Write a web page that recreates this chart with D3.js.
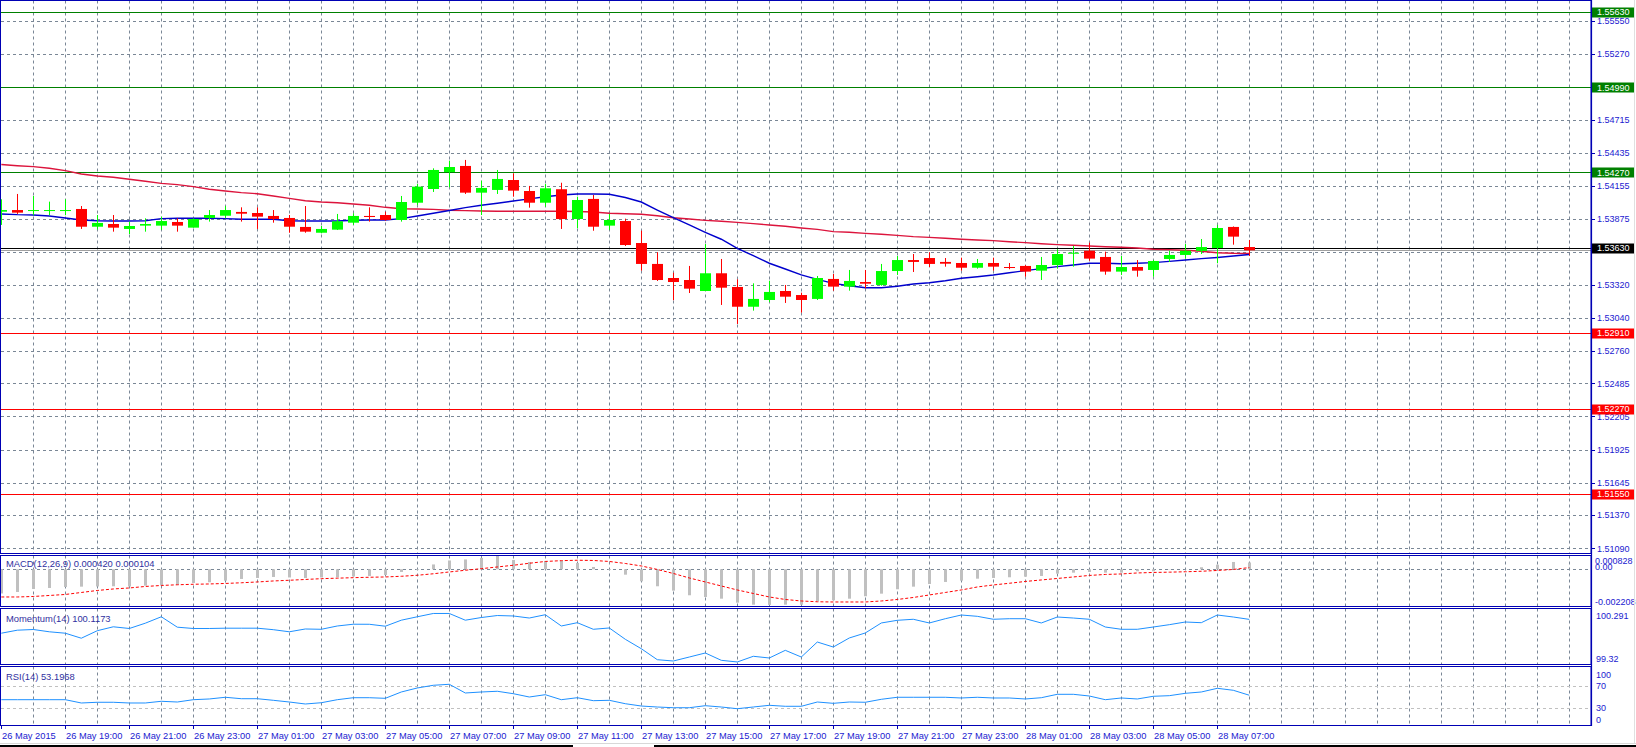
<!DOCTYPE html>
<html><head><meta charset="utf-8">
<script src="https://cdn.jsdelivr.net/npm/d3@7"></script>
<style>
body{margin:0;background:#fff;}
svg{display:block;}
text{font-family:"Liberation Sans",Arial,sans-serif;}
</style>
</head><body>
<svg id="c" width="1636" height="747"></svg>
<script>
// ---------- DATA (M30 bars, 26 May 2015 17:00 .. 28 May 08:00) ----------
const openP = [1.53937,1.53951,1.53946,1.53946,1.53946,1.53960,1.53810,1.53833,1.53791,1.53819,
1.53819,1.53850,1.53802,1.53884,1.53903,1.53935,1.53926,1.53901,1.53884,1.53808,
1.53759,1.53785,1.53844,1.53901,1.53909,1.53867,1.54013,1.54129,1.54273,1.54324,
1.54098,1.54121,1.54205,1.54112,1.54013,1.54127,1.53875,1.54045,1.53819,1.53858,
1.53672,1.53495,1.53376,1.53359,1.53266,1.53416,1.53300,1.53133,1.53190,1.53266,
1.53232,1.53199,1.53368,1.53303,1.53342,1.53317,1.53435,1.53528,1.53545,1.53512,
1.53503,1.53463,1.53503,1.53469,1.53478,1.53438,1.53486,1.53582,1.53607,1.53554,
1.53430,1.53469,1.53444,1.53537,1.53571,1.53605,1.53630,1.53808,1.53638];
const highP = [1.54042,1.54087,1.54070,1.54022,1.54042,1.53985,1.53909,1.53909,1.53853,1.53881,
1.53895,1.53881,1.53881,1.53951,1.53985,1.53974,1.53974,1.53951,1.53909,1.53985,
1.53816,1.53918,1.53924,1.53974,1.53937,1.54070,1.54171,1.54304,1.54369,1.54375,
1.54199,1.54290,1.54262,1.54155,1.54171,1.54182,1.54064,1.54078,1.53918,1.53878,
1.53776,1.53594,1.53421,1.53478,1.53664,1.53537,1.53365,1.53331,1.53353,1.53317,
1.53252,1.53393,1.53410,1.53444,1.53444,1.53495,1.53562,1.53579,1.53594,1.53545,
1.53548,1.53537,1.53548,1.53503,1.53486,1.53554,1.53619,1.53647,1.53675,1.53599,
1.53562,1.53528,1.53528,1.53607,1.53664,1.53706,1.53825,1.53812,1.53698];
const lowP = [1.53825,1.53918,1.53907,1.53907,1.53907,1.53791,1.53788,1.53768,1.53748,1.53768,
1.53782,1.53768,1.53802,1.53853,1.53881,1.53853,1.53791,1.53844,1.53759,1.53759,
1.53754,1.53782,1.53825,1.53853,1.53861,1.53853,1.53994,1.54104,1.54144,1.54087,
1.53909,1.54087,1.54064,1.53971,1.53979,1.53791,1.53797,1.53776,1.53782,1.53647,
1.53438,1.53351,1.53188,1.53249,1.53266,1.53148,1.52987,1.53100,1.53173,1.53165,
1.53083,1.53190,1.53269,1.53269,1.53289,1.53311,1.53402,1.53427,1.53469,1.53472,
1.53438,1.53455,1.53438,1.53450,1.53387,1.53359,1.53455,1.53472,1.53523,1.53404,
1.53402,1.53387,1.53387,1.53512,1.53540,1.53579,1.53501,1.53658,1.53562];
const closeP = [1.53951,1.53929,1.53951,1.53951,1.53951,1.53810,1.53842,1.53802,1.53816,1.53833,
1.53858,1.53819,1.53875,1.53909,1.53951,1.53920,1.53895,1.53875,1.53810,1.53768,
1.53791,1.53856,1.53901,1.53892,1.53867,1.54019,1.54149,1.54290,1.54315,1.54098,
1.54138,1.54214,1.54115,1.54013,1.54135,1.53875,1.54036,1.53810,1.53867,1.53655,
1.53495,1.53359,1.53342,1.53286,1.53416,1.53294,1.53133,1.53199,1.53258,1.53218,
1.53190,1.53376,1.53303,1.53351,1.53328,1.53435,1.53528,1.53512,1.53495,1.53497,
1.53463,1.53503,1.53472,1.53461,1.53430,1.53486,1.53579,1.53590,1.53540,1.53430,
1.53469,1.53438,1.53520,1.53571,1.53607,1.53638,1.53799,1.53726,1.53610];
const maFast = [1.53918,1.53912,1.53909,1.53901,1.53884,1.53867,1.53861,1.53858,1.53858,1.53861,
1.53878,1.53881,1.53881,1.53881,1.53878,1.53873,1.53873,1.53873,1.53861,1.53858,
1.53858,1.53858,1.53864,1.53867,1.53867,1.53878,1.53901,1.53924,1.53947,1.53971,
1.53991,1.54008,1.54028,1.54045,1.54064,1.54078,1.54087,1.54087,1.54084,1.54057,
1.54019,1.53951,1.53886,1.53825,1.53763,1.53704,1.53627,1.53565,1.53501,1.53452,
1.53402,1.53365,1.53331,1.53311,1.53294,1.53294,1.53306,1.53325,1.53336,1.53353,
1.53374,1.53387,1.53402,1.53421,1.53438,1.53455,1.53472,1.53486,1.53501,1.53501,
1.53497,1.53501,1.53506,1.53517,1.53528,1.53540,1.53550,1.53562,1.53575];
const maSlow = [1.54336,1.54326,1.54318,1.54304,1.54284,1.54256,1.54239,1.54228,1.54211,1.54194,
1.54177,1.54166,1.54149,1.54127,1.54112,1.54098,1.54089,1.54070,1.54050,1.54030,
1.54019,1.54013,1.54002,1.53991,1.53974,1.53962,1.53960,1.53957,1.53949,1.53946,
1.53943,1.53941,1.53941,1.53941,1.53941,1.53941,1.53939,1.53935,1.53924,1.53920,
1.53915,1.53903,1.53886,1.53875,1.53864,1.53856,1.53847,1.53836,1.53825,1.53814,
1.53799,1.53787,1.53768,1.53763,1.53754,1.53746,1.53737,1.53726,1.53720,1.53712,
1.53704,1.53698,1.53692,1.53683,1.53675,1.53666,1.53658,1.53653,1.53647,1.53641,
1.53636,1.53630,1.53619,1.53616,1.53611,1.53602,1.53590,1.53585,1.53583];
const macdHist = [-0.001500,-0.001407,-0.001221,-0.001159,-0.001097,-0.001078,-0.001066,-0.001054,-0.001066,-0.001016,
-0.000973,-0.000954,-0.000849,-0.000806,-0.000707,-0.000601,-0.000539,-0.000477,-0.000508,-0.000539,
-0.000508,-0.000496,-0.000446,-0.000415,-0.000353,-0.000167,-0.000043,0.000298,0.000545,0.000607,
0.000700,0.000828,0.000576,0.000452,0.000514,0.000514,0.000390,0.000143,-0.000043,-0.000335,
-0.000744,-0.001054,-0.001326,-0.001611,-0.001717,-0.001822,-0.002070,-0.002194,-0.002208,-0.002194,
-0.002194,-0.001983,-0.001921,-0.001822,-0.001673,-0.001512,-0.001240,-0.001078,-0.000911,-0.000787,
-0.000707,-0.000583,-0.000539,-0.000496,-0.000459,-0.000415,-0.000273,-0.000211,-0.000167,-0.000211,
-0.000211,-0.000124,-0.000124,-0.000012,-0.000012,0.000124,0.000285,0.000452,0.000420];
const macdSignal = [-0.001717,-0.001717,-0.001686,-0.001624,-0.001562,-0.001438,-0.001314,-0.001221,-0.001159,-0.001066,
-0.001004,-0.000961,-0.000930,-0.000911,-0.000880,-0.000837,-0.000787,-0.000725,-0.000682,-0.000632,
-0.000583,-0.000552,-0.000521,-0.000496,-0.000477,-0.000434,-0.000372,-0.000279,-0.000167,-0.000062,
0.000037,0.000143,0.000248,0.000372,0.000483,0.000533,0.000558,0.000545,0.000483,0.000359,
0.000205,-0.000012,-0.000260,-0.000539,-0.000787,-0.001035,-0.001283,-0.001500,-0.001717,-0.001872,
-0.001965,-0.002014,-0.002027,-0.002027,-0.002027,-0.001965,-0.001872,-0.001748,-0.001593,-0.001438,
-0.001283,-0.001097,-0.000973,-0.000868,-0.000756,-0.000663,-0.000570,-0.000477,-0.000384,-0.000322,
-0.000291,-0.000229,-0.000198,-0.000180,-0.000155,-0.000124,-0.000074,-0.000012,0.000104];
const momentum = [99.874,99.927,99.939,99.899,99.874,99.786,99.918,99.987,99.957,100.050,
100.163,99.980,99.957,99.957,99.962,99.962,99.962,99.936,99.899,99.948,
99.943,100.001,100.032,100.031,99.997,100.103,100.163,100.221,100.221,100.103,
100.150,100.185,100.177,100.141,100.199,100.001,100.059,99.943,99.966,99.767,
99.601,99.408,99.385,99.455,99.526,99.397,99.368,99.468,99.438,99.573,
99.455,99.719,99.631,99.790,99.878,100.054,100.101,100.119,100.054,100.129,
100.194,100.171,100.119,100.129,100.129,100.054,100.159,100.141,100.119,99.983,
99.943,99.943,99.983,100.024,100.071,100.059,100.194,100.159,100.1173];
const rsi = [45.1,45.1,45.1,45.1,45.1,39.1,40.4,40.4,39.1,39.1,
42.2,40.9,45.1,46.4,49.5,46.9,46.9,44.0,40.9,37.3,
39.6,45.1,48.7,48.7,47.6,59.1,66.4,71.3,73.1,57.3,
59.1,60.4,56.0,50.0,54.2,45.1,48.7,43.3,44.0,37.8,
33.6,31.8,30.5,30.5,34.2,31.8,28.7,31.8,34.9,33.1,
33.1,40.9,38.5,40.9,40.4,45.8,49.5,49.5,49.5,49.5,
48.2,49.5,48.2,48.2,46.4,48.7,54.9,54.9,51.8,45.1,
48.2,46.4,51.3,52.4,56.7,59.1,65.8,62.2,53.1968];

const priceTicks = [1.55550,1.55270,1.54990,1.54715,1.54435,1.54155,1.53875,1.53600,1.53320,1.53040,1.52760,1.52485,1.52205,1.51925,1.51645,1.51370,1.51090];
const priceTickLabels = ["1.55550","1.55270","","1.54715","1.54435","1.54155","1.53875","","1.53320","1.53040","1.52760","1.52485","1.52205","1.51925","1.51645","1.51370","1.51090"];
const timeLabels = ["26 May 2015","26 May 19:00","26 May 21:00","26 May 23:00","27 May 01:00","27 May 03:00","27 May 05:00","27 May 07:00","27 May 09:00","27 May 11:00","27 May 13:00","27 May 15:00","27 May 17:00","27 May 19:00","27 May 21:00","27 May 23:00","28 May 01:00","28 May 03:00","28 May 05:00","28 May 07:00"];
const levelsGreen = [1.55630,1.54990,1.54270];
const levelsRed = [1.52910,1.52270,1.51550];
const levelBlack = 1.53630;
const macdTitle = "MACD(12,26,9) 0.000420 0.000104";
const momTitle = "Momentum(14) 100.1173";
const rsiTitle = "RSI(14) 53.1968";
const macdAxis = [["0.000828",0.000828],["0.00",0],["-0.002208",-0.002208]];
const momAxis = [["100.291",100.291],["99.32",99.32]];
const rsiLevels = [70,30];
const rsiAxis = [100,70,30,0];

// ---------- LAYOUT ----------
const PR = 1591;
const svg = d3.select("#c");
const FRAME = "#0000b4", AXT = "#1a1ad0", GRID = "#7a8796";
const P = {
  main: {y0: 0.5, y1: 553.5},
  macd: {y0: 555.5, y1: 606.5},
  mom:  {y0: 608.5, y1: 664.5},
  rsi:  {y0: 666.5, y1: 725.5}
};
const nBars = closeP.length;
const x = d3.scaleLinear().domain([0, 1]).range([1.3, 17.3]);
const y = d3.scaleLinear().domain([1.51041, 1.55728]).range([554, 0]);
const yM = d3.scaleLinear().domain([-0.002208, 0.000828]).range([604.9, 555.9]);
const yMo = d3.scaleLinear().domain([99.32, 100.291]).range([664.7, 609.5]);
const yR = d3.scaleLinear().domain([0, 100]).range([724.5, 669.5]);

const defs = svg.append("defs");
Object.entries(P).forEach(([k, p]) => {
  defs.append("clipPath").attr("id", "clip-" + k).append("rect")
    .attr("x", 0.5).attr("y", p.y0).attr("width", PR - 0.5).attr("height", p.y1 - p.y0);
});

// vertical grid (every hour)
const gridIdx = d3.range(2, 100, 2).filter(i => x(i) < PR - 2);
const gv = svg.append("g");
Object.entries(P).forEach(([k, p]) => {
  gv.append("g").attr("clip-path", `url(#clip-${k})`).selectAll("line").data(gridIdx).join("line")
    .attr("x1", d => Math.round(x(d)) + 0.5).attr("x2", d => Math.round(x(d)) + 0.5)
    .attr("y1", p.y0).attr("y2", p.y1)
    .attr("stroke", GRID).attr("stroke-dasharray", "3,3").attr("stroke-width", 1);
});
// horizontal grid main
svg.append("g").attr("clip-path", "url(#clip-main)").selectAll("line").data(priceTicks).join("line")
  .attr("x1", 1).attr("x2", PR)
  .attr("y1", d => Math.round(y(d)) + 0.5).attr("y2", d => Math.round(y(d)) + 0.5)
  .attr("stroke", GRID).attr("stroke-dasharray", "3,3");
// MACD zero
svg.append("line").attr("x1", 1).attr("x2", PR).attr("y1", Math.round(yM(0)) + 0.5).attr("y2", Math.round(yM(0)) + 0.5)
  .attr("stroke", GRID).attr("stroke-dasharray", "3,3");
// RSI levels
svg.append("g").selectAll("line").data(rsiLevels).join("line")
  .attr("x1", 1).attr("x2", PR)
  .attr("y1", d => Math.round(yR(d)) + 0.5).attr("y2", d => Math.round(yR(d)) + 0.5)
  .attr("stroke", "#c0c0c0").attr("stroke-dasharray", "3,3");

// level lines
const lv = svg.append("g").attr("clip-path", "url(#clip-main)");
lv.selectAll(".lg").data(levelsGreen).join("line").attr("class", "lg")
  .attr("x1", 1).attr("x2", PR).attr("y1", d => Math.round(y(d)) + 0.5).attr("y2", d => Math.round(y(d)) + 0.5)
  .attr("stroke", "#008000");
lv.selectAll(".lr").data(levelsRed).join("line").attr("class", "lr")
  .attr("x1", 1).attr("x2", PR).attr("y1", d => Math.round(y(d)) + 0.5).attr("y2", d => Math.round(y(d)) + 0.5)
  .attr("stroke", "#ff0000");
lv.append("line").attr("x1", 1).attr("x2", PR)
  .attr("y1", Math.round(y(levelBlack)) + 0.5).attr("y2", Math.round(y(levelBlack)) + 0.5).attr("stroke", "#000");
lv.append("line").attr("x1", 1).attr("x2", PR)
  .attr("y1", Math.round(y(closeP[nBars - 1])) + 0.5).attr("y2", Math.round(y(closeP[nBars - 1])) + 0.5).attr("stroke", "#a0a0a0");

// moving averages
const mainG = svg.append("g").attr("clip-path", "url(#clip-main)");
const lineMain = d3.line().x((d, i) => x(i)).y(d => y(d));
mainG.append("path").attr("d", lineMain(maSlow)).attr("fill", "none").attr("stroke", "#dc143c").attr("stroke-width", 1.4);
mainG.append("path").attr("d", lineMain(maFast)).attr("fill", "none").attr("stroke", "#0000cd").attr("stroke-width", 1.4);

// candles
const bars = d3.range(nBars).map(i => ({i, o: openP[i], h: highP[i], l: lowP[i], c: closeP[i]}));
const cg = mainG.append("g").selectAll("g").data(bars).join("g");
cg.append("line")
  .attr("x1", d => Math.round(x(d.i)) + 0.5).attr("x2", d => Math.round(x(d.i)) + 0.5)
  .attr("y1", d => y(d.h)).attr("y2", d => y(d.l))
  .attr("stroke", d => d.c >= d.o ? "#00ff00" : "#ff0000").attr("stroke-width", 1);
cg.append("rect")
  .attr("x", d => Math.round(x(d.i)) - 5).attr("width", 11)
  .attr("y", d => y(Math.max(d.o, d.c)))
  .attr("height", d => Math.max(1, y(Math.min(d.o, d.c)) - y(Math.max(d.o, d.c))))
  .attr("fill", d => d.c >= d.o ? "#00ff00" : "#ff0000");

// MACD
const mg = svg.append("g").attr("clip-path", "url(#clip-macd)");
mg.selectAll("rect").data(macdHist).join("rect")
  .attr("x", (d, i) => Math.round(x(i)) - 1).attr("width", 3)
  .attr("y", d => Math.min(yM(d), yM(0))).attr("height", d => Math.abs(yM(d) - yM(0)))
  .attr("fill", "#c0c0c0");
mg.append("path").attr("d", d3.line().x((d, i) => x(i)).y(d => yM(d))(macdSignal))
  .attr("fill", "none").attr("stroke", "#ff0000").attr("stroke-width", 1).attr("stroke-dasharray", "3,2");

// Momentum
svg.append("g").attr("clip-path", "url(#clip-mom)").append("path")
  .attr("d", d3.line().x((d, i) => x(i)).y(d => yMo(d))(momentum))
  .attr("fill", "none").attr("stroke", "#1e90ff").attr("stroke-width", 1);
// RSI
svg.append("g").attr("clip-path", "url(#clip-rsi)").append("path")
  .attr("d", d3.line().x((d, i) => x(i)).y(d => yR(d))(rsi))
  .attr("fill", "none").attr("stroke", "#1e90ff").attr("stroke-width", 1);

// frames
Object.values(P).forEach(p => {
  svg.append("rect").attr("x", 0.5).attr("y", p.y0).attr("width", PR - 0.5).attr("height", p.y1 - p.y0)
    .attr("fill", "none").attr("stroke", FRAME).attr("stroke-width", 1);
});

// titles
const TT = "#3030a0";
svg.append("text").attr("x", 6).attr("y", 566.7).attr("font-size", 9.4).attr("fill", TT).text(macdTitle);
svg.append("text").attr("x", 6).attr("y", 621.7).attr("font-size", 9.4).attr("fill", TT).text(momTitle);
svg.append("text").attr("x", 6).attr("y", 679.5).attr("font-size", 9.4).attr("fill", TT).text(rsiTitle);

// right price axis
const ax = svg.append("g");
const tk = priceTicks.map((v, i) => ({v, t: priceTickLabels[i]}));
ax.selectAll("line").data(tk).join("line")
  .attr("x1", PR).attr("x2", PR + 4).attr("y1", d => Math.round(y(d.v)) + 0.5).attr("y2", d => Math.round(y(d.v)) + 0.5)
  .attr("stroke", FRAME);
ax.selectAll("text").data(tk.filter(d => d.t)).join("text")
  .attr("x", 1597).attr("y", d => y(d.v) + 3.3).attr("font-size", 9).attr("fill", AXT).text(d => d.t);

// level boxes
const boxes = levelsGreen.map(v => ({v, c: "#008000"}))
  .concat(levelsRed.map(v => ({v, c: "#ff0000"})))
  .concat([{v: levelBlack, c: "#000000"}]);
const bg = svg.append("g").selectAll("g").data(boxes).join("g");
bg.append("rect").attr("x", 1592).attr("width", 42).attr("y", d => Math.round(y(d.v)) - 4.5).attr("height", 10).attr("fill", d => d.c);
bg.append("text").attr("x", 1597).attr("y", d => y(d.v) + 3.3).attr("font-size", 9).attr("fill", "#fff").text(d => d.v.toFixed(5));

// sub axis labels
svg.append("g").selectAll("text").data(macdAxis).join("text")
  .attr("x", 1595).attr("y", (d, i) => [564.3, 569.7, 604.5][i]).attr("font-size", 9).attr("fill", AXT).text(d => d[0]);
svg.append("g").selectAll("text").data(momAxis).join("text")
  .attr("x", 1596).attr("y", (d, i) => [619, 661.5][i]).attr("font-size", 9).attr("fill", AXT).text(d => d[0]);
svg.append("g").selectAll("text").data(rsiAxis).join("text")
  .attr("x", 1596).attr("y", d => d === 100 ? 677.5 : d === 0 ? 722.5 : yR(d) + 3.3).attr("font-size", 9).attr("fill", AXT).text(d => d);

// right vertical axis line
svg.append("line").attr("x1", PR + 0.5).attr("x2", PR + 0.5).attr("y1", 0).attr("y2", 726).attr("stroke", FRAME).attr("stroke-width", 1.2);

// time axis
const tg = svg.append("g");
tg.selectAll("line").data(timeLabels).join("line")
  .attr("x1", (d, i) => Math.round(x(i * 4)) + 0.5).attr("x2", (d, i) => Math.round(x(i * 4)) + 0.5)
  .attr("y1", 725.5).attr("y2", 729).attr("stroke", FRAME);
tg.selectAll("text").data(timeLabels).join("text")
  .attr("x", (d, i) => Math.round(x(i * 4)) + 1).attr("y", 738.5).attr("font-size", 9.3).attr("fill", AXT).text(d => d);

// bottom window edges
svg.append("line").attr("x1", 0).attr("x2", 1636).attr("y1", 743.5).attr("y2", 743.5).attr("stroke", "#d8d8d8");
svg.append("line").attr("x1", 0).attr("x2", 573).attr("y1", 746).attr("y2", 746).attr("stroke", "#000").attr("stroke-width", 2);
svg.append("line").attr("x1", 654).attr("x2", 1636).attr("y1", 746).attr("y2", 746).attr("stroke", "#000").attr("stroke-width", 2);
svg.append("line").attr("x1", 1634.5).attr("x2", 1634.5).attr("y1", 0).attr("y2", 743).attr("stroke", "#e0e0e0");
</script>
</body></html>
